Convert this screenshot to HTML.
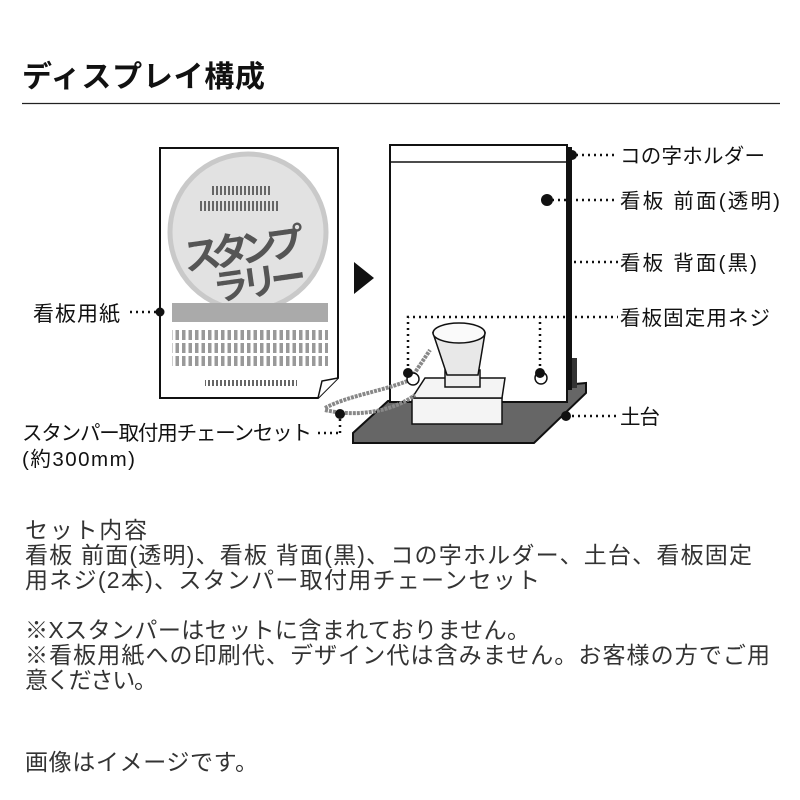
<!DOCTYPE html>
<html><head><meta charset="utf-8"><style>
html,body{margin:0;padding:0;background:#fff;width:800px;height:800px;overflow:hidden}
svg{display:block}
text{font-family:"Liberation Sans","Noto Sans CJK JP",sans-serif}
</style></head><body>
<svg width="800" height="800" viewBox="0 0 800 800">
<defs>
<pattern id="dash" width="6.5" height="10" patternUnits="userSpaceOnUse"><rect x="0" y="0" width="3.5" height="10" fill="#999"/></pattern>
<pattern id="dash2" width="4" height="6" patternUnits="userSpaceOnUse"><rect x="0" y="0" width="2" height="6" fill="#666"/></pattern>
</defs>
<text x="22" y="87" font-size="30" font-weight="bold" fill="#111" textLength="243">ディスプレイ構成</text>
<line x1="22" y1="103.5" x2="780" y2="103.5" stroke="#222" stroke-width="1.3"/>

<path d="M160,148 H338 V378 L318,398 H160 Z" fill="#fff" stroke="#111" stroke-width="2"/>
<path d="M318,398 L322,381 L338,378" fill="#fff" stroke="#111" stroke-width="1.5"/>
<circle cx="248" cy="232" r="78" fill="#e2e2e2" stroke="#c9c9c9" stroke-width="5"/>
<rect x="210" y="186" width="60" height="9" fill="url(#dash2)"/>
<rect x="200" y="201" width="80" height="10" fill="url(#dash2)"/>
<g transform="rotate(-8 248 250)">
<text x="183" y="262" font-size="38" font-weight="bold" fill="#555" textLength="122">スタンプ</text>
<text x="208" y="296" font-size="36" font-weight="bold" fill="#555" textLength="94">ラリー</text>
</g>
<rect x="172" y="303" width="156" height="19" fill="#aaa"/>
<rect x="172" y="330" width="156" height="10" fill="url(#dash)"/>
<rect x="172" y="343" width="156" height="10" fill="url(#dash)"/>
<rect x="172" y="356" width="156" height="10" fill="url(#dash)"/>
<rect x="205" y="380" width="92" height="6" fill="url(#dash2)"/>
<circle cx="160" cy="312" r="4.5" fill="#111"/>
<line x1="130" y1="312" x2="156" y2="312" stroke="#111" stroke-width="2.5" stroke-dasharray="2,4"/>
<text x="33" y="321" font-size="21" fill="#111" textLength="87">看板用紙</text>

<polygon points="354,262 374,278 354,294" fill="#111"/>

<polygon points="388,401 586,383 586,393 534,443 353,443 353,433" fill="#666" stroke="#111" stroke-width="2"/>
<rect x="390" y="145" width="177" height="257" fill="#fff" stroke="#111" stroke-width="2"/>
<line x1="390" y1="162" x2="567" y2="162" stroke="#111" stroke-width="1.5"/>
<rect x="567" y="147" width="5" height="243" fill="#111"/>
<rect x="572" y="358" width="5" height="30" fill="#333"/>
<rect x="412" y="398" width="90" height="26" fill="#f4f4f4" stroke="#111" stroke-width="1.5"/>
<polygon points="412,398 425,378 505,378 502,398" fill="#f4f4f4" stroke="#111" stroke-width="1.5"/>
<rect x="445" y="370" width="35" height="17" fill="#eee" stroke="#111" stroke-width="1.5"/>
<path d="M433,333 L447,375 H478 L485,333 Z" fill="#e8e8e8" stroke="#111" stroke-width="1.5"/>
<ellipse cx="459" cy="333" rx="26" ry="10" fill="#fafafa" stroke="#111" stroke-width="1.5"/>
<path d="M325,408 C350,395 380,392 410,380 L430,350" fill="none" stroke="#888" stroke-width="4" stroke-dasharray="3,1"/>
<path d="M325,410 C360,418 395,410 415,395" fill="none" stroke="#888" stroke-width="4" stroke-dasharray="3,1"/>
<circle cx="413" cy="379" r="6" fill="#fff" stroke="#111" stroke-width="1.5"/>
<circle cx="541" cy="378" r="6" fill="#fff" stroke="#111" stroke-width="1.5"/>
<g stroke="#111" stroke-width="2.5" stroke-dasharray="2,4" fill="none">
<line x1="576" y1="155" x2="618" y2="155"/>
<line x1="552" y1="200" x2="618" y2="200"/>
<line x1="574" y1="262" x2="618" y2="262"/>
<path d="M408,372 V317 H618"/>
<path d="M540,372 V317"/>
<line x1="566" y1="416" x2="618" y2="416"/>
<line x1="318" y1="433" x2="340" y2="433"/>
<line x1="340" y1="433" x2="340" y2="418"/>
</g>
<g fill="#111">
<circle cx="572" cy="155" r="5"/>
<circle cx="547" cy="200" r="6"/>
<circle cx="408" cy="373" r="5"/>
<circle cx="540" cy="373" r="5"/>
<circle cx="566" cy="416" r="5"/>
<circle cx="340" cy="414" r="5"/>
</g>
<g font-size="20.5" fill="#111">
<text x="620" y="163" textLength="145">コの字ホルダー</text>
<text x="620" y="208" textLength="160">看板 前面(透明)</text>
<text x="620" y="270" textLength="137">看板 背面(黒)</text>
<text x="620" y="325" textLength="150">看板固定用ネジ</text>
<text x="620" y="424" textLength="40">土台</text>
<text x="22" y="440" textLength="290">スタンパー取付用チェーンセット</text>
<text x="22" y="466" textLength="113">(約300mm)</text>
</g>
<g font-size="23" fill="#333">
<text x="25" y="538" textLength="122">セット内容</text>
<text x="25" y="563" textLength="727">看板 前面(透明)、看板 背面(黒)、コの字ホルダー、土台、看板固定</text>
<text x="25" y="588" textLength="515">用ネジ(2本)、スタンパー取付用チェーンセット</text>
<text x="25" y="638" textLength="505">※Xスタンパーはセットに含まれておりません。</text>
<text x="25" y="663" textLength="745">※看板用紙への印刷代、デザイン代は含みません。お客様の方でご用</text>
<text x="25" y="688" textLength="132">意ください。</text>
<text x="25" y="770" textLength="233">画像はイメージです。</text>
</g>
</svg>
</body></html>
